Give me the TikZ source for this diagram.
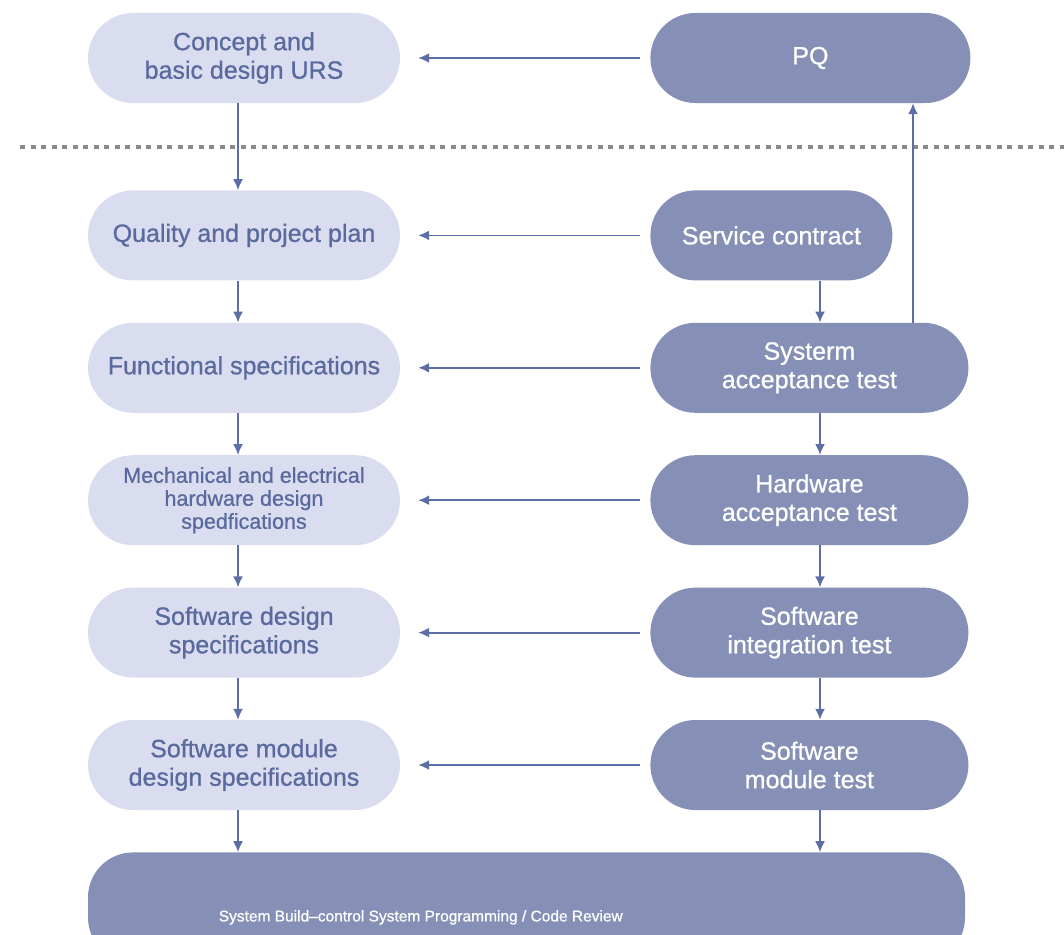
\documentclass[tikz,border=0pt]{standalone}
\usepackage{fontspec}
\setmainfont{Liberation Sans}[RawFeature={embolden=0.8}]
\usetikzlibrary{arrows.meta,positioning}
\definecolor{VMPale}{HTML}{D9DDEF}
\definecolor{VMSlate}{HTML}{8690B6}
\definecolor{VMInk}{HTML}{5A6A9E}
\definecolor{VMArrow}{HTML}{5D6EA6}
\definecolor{VMGray}{HTML}{8A8A8A}
\tikzset{
  >={Latex[length=11pt,width=10pt]},
  vmspec/.style={rounded corners=45pt, fill=VMPale, text=VMInk, align=center,
    minimum width=312pt, minimum height=90pt, inner sep=2pt,
    font=\fontsize{25}{28.5}\selectfont},
  vmtest/.style={vmspec, fill=VMSlate, text=white, minimum width=318pt},
  vmarrow/.style={->, line width=1.8pt, draw=VMArrow},
  vmback/.style={vmarrow, shorten <=10pt, shorten >=18pt},
  vmsplit/.style={draw=VMGray, line width=4.5pt, dash pattern=on 5pt off 5.5pt}
}

\begin{document}
\begin{tikzpicture}[x=1pt, y=1pt, node distance=42pt and 250pt]
  \useasboundingbox (0,0) rectangle (1064,-934);

  % specification side
  \node[vmspec] (concept) at (244,-58) {Concept and\\basic design URS};
  \node[vmspec, below=87pt of concept] (quality) {Quality and project plan};
  \node[vmspec, below=of quality] (functional) {Functional specifications};
  \node[vmspec, below=of functional, font=\fontsize{21.5}{23}\selectfont] (mechanical)
    {Mechanical and electrical\\hardware design\\spedfications};
  \node[vmspec, below=of mechanical] (swdesign) {Software design\\specifications};
  \node[vmspec, below=of swdesign] (moddesign) {Software module\\design specifications};

  % test side
  \node[vmtest, right=of concept, minimum width=320pt] (pq) {PQ};
  \node[vmtest, right=of quality, minimum width=242pt] (service) {Service contract};
  \node[vmtest, right=of functional] (sysaccept) {Systerm\\acceptance test};
  \node[vmtest, right=of mechanical] (hwaccept) {Hardware\\acceptance test};
  \node[vmtest, right=of swdesign] (swinteg) {Software\\integration test};
  \node[vmtest, right=of moddesign] (modtest) {Software\\module test};

  \node[vmtest, anchor=north west, minimum width=877pt, minimum height=110pt]
    (build) at ([yshift=-42pt]moddesign.south west) {};
  \node[text=white, font=\fontsize{15.5}{18}\selectfont] (buildtext)
    at ([xshift=333pt, yshift=-10pt]build.west)
    {System Build–control System Programming / Code Review};

  \draw[vmsplit] (20,-147) -- (1064,-147);

  \coordinate (lx) at (238,0);
  \coordinate (rx) at (820,0);
  \coordinate (ux) at (913,0);

  \draw[vmarrow] (concept.south -| lx) -- (quality.north -| lx);
  \draw[vmarrow] (quality.south -| lx) -- (functional.north -| lx);
  \draw[vmarrow] (functional.south -| lx) -- (mechanical.north -| lx);
  \draw[vmarrow] (mechanical.south -| lx) -- (swdesign.north -| lx);
  \draw[vmarrow] (swdesign.south -| lx) -- (moddesign.north -| lx);
  \draw[vmarrow] (moddesign.south -| lx) -- (build.north -| lx);

  \draw[vmarrow] (service.south -| rx) -- (sysaccept.north -| rx);
  \draw[vmarrow] (sysaccept.south -| rx) -- (hwaccept.north -| rx);
  \draw[vmarrow] (hwaccept.south -| rx) -- (swinteg.north -| rx);
  \draw[vmarrow] (swinteg.south -| rx) -- (modtest.north -| rx);
  \draw[vmarrow] (modtest.south -| rx) -- (build.north -| rx);
  \draw[vmarrow] (sysaccept.north -| ux) -- (pq.south -| ux);

  \draw[vmback] (pq.west) -- (concept.east);
  \draw[vmback] (service.west) -- (quality.east);
  \draw[vmback] (sysaccept.west) -- (functional.east);
  \draw[vmback] (hwaccept.west) -- (mechanical.east);
  \draw[vmback] (swinteg.west) -- (swdesign.east);
  \draw[vmback] (modtest.west) -- (moddesign.east);
\end{tikzpicture}
\end{document}
